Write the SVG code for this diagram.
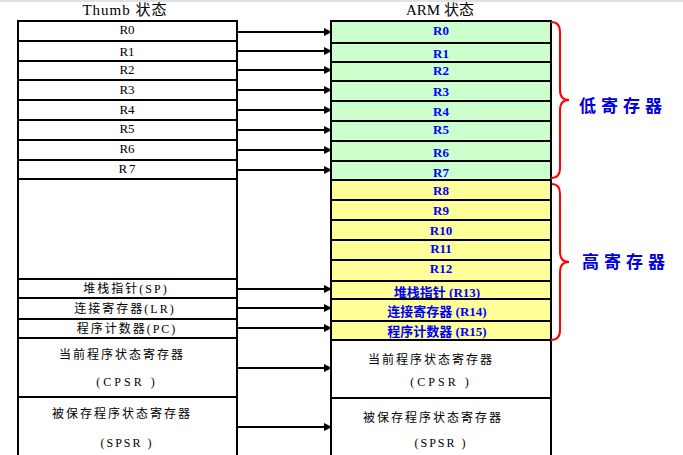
<svg xmlns="http://www.w3.org/2000/svg" width="683" height="455" viewBox="0 0 683 455">
<style>
.cell{stroke:#000;stroke-width:2}
.w{fill:#fff}
.g{fill:#ccffcc}
.y{fill:#ffff99}
.lt{font-family:"Liberation Serif","Noto Sans CJK SC",serif;font-size:12px;fill:#000;text-anchor:middle}
.lr{font-size:13px}
.rt{font-family:"Liberation Serif","Noto Sans CJK SC",serif;font-size:13px;font-weight:bold;fill:#0000ff;text-anchor:middle}
.cj{letter-spacing:2px}
.hd{font-family:"Liberation Serif","Noto Sans CJK SC",serif;font-size:15px;fill:#000;text-anchor:middle}
.br{fill:none;stroke:#ff0000;stroke-width:2}
.bl{font-family:"Noto Sans CJK SC",sans-serif;font-size:17px;font-weight:bold;fill:#0000dd;letter-spacing:5px}
.ar{stroke:#000;stroke-width:2;marker-end:url(#ah)}
</style>
<defs>
<marker id="ah" markerUnits="userSpaceOnUse" markerWidth="8" markerHeight="8" refX="7" refY="4" orient="auto">
<path d="M0,0 L8,4 L0,8 z" fill="#000"/>
</marker>
</defs>
<rect x="0" y="0" width="683" height="2" fill="#e2e2e2"/>
<text class="hd" x="125" y="15" letter-spacing="1">Thumb 状态</text>
<text class="hd" x="440" y="15">ARM 状态</text>

<g id="thumb">
<g id="t-r0"><rect class="cell w" x="18" y="21" width="219" height="20"/><text class="lt lr" x="127" y="34">R0</text></g>
<g id="t-r1"><rect class="cell w" x="18" y="41" width="219" height="20"/><text class="lt lr" x="127" y="56">R1</text></g>
<g id="t-r2"><rect class="cell w" x="18" y="61" width="219" height="19"/><text class="lt lr" x="127" y="74">R2</text></g>
<g id="t-r3"><rect class="cell w" x="18" y="80" width="219" height="20"/><text class="lt lr" x="127" y="94">R3</text></g>
<g id="t-r4"><rect class="cell w" x="18" y="100" width="219" height="20"/><text class="lt lr" x="127" y="114">R4</text></g>
<g id="t-r5"><rect class="cell w" x="18" y="120" width="219" height="20"/><text class="lt lr" x="127" y="133">R5</text></g>
<g id="t-r6"><rect class="cell w" x="18" y="140" width="219" height="20"/><text class="lt lr" x="127" y="153">R6</text></g>
<g id="t-r7"><rect class="cell w" x="18" y="160" width="219" height="19"/><text class="lt lr" x="128" y="173" letter-spacing="2">R7</text></g>
<g id="t-empty"><rect class="cell w" x="18" y="179" width="219" height="100"/></g>
<g id="t-sp"><rect class="cell w" x="18" y="279" width="219" height="19"/><text class="lt cj" x="126" y="293">堆栈指针(SP)</text></g>
<g id="t-lr"><rect class="cell w" x="18" y="298" width="219" height="21"/><text class="lt cj" x="125" y="313">连接寄存器(LR)</text></g>
<g id="t-pc"><rect class="cell w" x="18" y="319" width="219" height="19"/><text class="lt cj" x="127" y="333">程序计数器(PC)</text></g>
<g id="t-cpsr"><rect class="cell w" x="18" y="338" width="219" height="59"/><text class="lt cj" x="122" y="359">当前程序状态寄存器</text><text class="lt" x="127" y="386" letter-spacing="3">(CPSR )</text></g>
<g id="t-spsr"><rect class="cell w" x="18" y="397" width="219" height="70"/><text class="lt cj" x="122" y="418">被保存程序状态寄存器</text><text class="lt" x="127" y="447" letter-spacing="2">(SPSR )</text></g>
</g>

<g id="arm">
<g id="a-r0"><rect class="cell g" x="331" y="21" width="220" height="22"/><text class="rt" x="441" y="35">R0</text></g>
<g id="a-r1"><rect class="cell g" x="331" y="43" width="220" height="19"/><text class="rt" x="441" y="58">R1</text></g>
<g id="a-r2"><rect class="cell g" x="331" y="62" width="220" height="19"/><text class="rt" x="441" y="75">R2</text></g>
<g id="a-r3"><rect class="cell g" x="331" y="81" width="220" height="20"/><text class="rt" x="441" y="96">R3</text></g>
<g id="a-r4"><rect class="cell g" x="331" y="101" width="220" height="20"/><text class="rt" x="441" y="116">R4</text></g>
<g id="a-r5"><rect class="cell g" x="331" y="121" width="220" height="20"/><text class="rt" x="441" y="134">R5</text></g>
<g id="a-r6"><rect class="cell g" x="331" y="141" width="220" height="20"/><text class="rt" x="441" y="157">R6</text></g>
<g id="a-r7"><rect class="cell g" x="331" y="161" width="220" height="19"/><text class="rt" x="441" y="177">R7</text></g>
<g id="a-r8"><rect class="cell y" x="331" y="180" width="220" height="20"/><text class="rt" x="441" y="195">R8</text></g>
<g id="a-r9"><rect class="cell y" x="331" y="200" width="220" height="20"/><text class="rt" x="441" y="215">R9</text></g>
<g id="a-r10"><rect class="cell y" x="331" y="220" width="220" height="20"/><text class="rt" x="441" y="235">R10</text></g>
<g id="a-r11"><rect class="cell y" x="331" y="240" width="220" height="20"/><text class="rt" x="441" y="253">R11</text></g>
<g id="a-r12"><rect class="cell y" x="331" y="260" width="220" height="21"/><text class="rt" x="441" y="273">R12</text></g>
<g id="a-r13"><rect class="cell y" x="331" y="281" width="220" height="18"/><text class="rt" x="437" y="297">堆栈指针 (R13)</text></g>
<g id="a-r14"><rect class="cell y" x="331" y="299" width="220" height="22"/><text class="rt" x="437" y="316">连接寄存器 (R14)</text></g>
<g id="a-r15"><rect class="cell y" x="331" y="321" width="220" height="19"/><text class="rt" x="437" y="336">程序计数器 (R15)</text></g>
<g id="a-cpsr"><rect class="cell w" x="331" y="340" width="220" height="58"/><text class="lt cj" x="431" y="364">当前程序状态寄存器</text><text class="lt" x="441" y="386" letter-spacing="3">(CPSR )</text></g>
<g id="a-spsr"><rect class="cell w" x="331" y="398" width="220" height="70"/><text class="lt cj" x="433" y="422">被保存程序状态寄存器</text><text class="lt" x="441" y="447" letter-spacing="2">(SPSR )</text></g>
</g>

<g id="connectors">
<line class="ar" x1="237" y1="32" x2="331" y2="32"/>
<line class="ar" x1="237" y1="51" x2="331" y2="51"/>
<line class="ar" x1="237" y1="70" x2="331" y2="70"/>
<line class="ar" x1="237" y1="90" x2="331" y2="90"/>
<line class="ar" x1="237" y1="110" x2="331" y2="110"/>
<line class="ar" x1="237" y1="130" x2="331" y2="130"/>
<line class="ar" x1="237" y1="150" x2="331" y2="150"/>
<line class="ar" x1="237" y1="170" x2="331" y2="170"/>
<line class="ar" x1="237" y1="289" x2="331" y2="289"/>
<line class="ar" x1="237" y1="308" x2="331" y2="308"/>
<line class="ar" x1="237" y1="328" x2="331" y2="328"/>
<line class="ar" x1="237" y1="368" x2="331" y2="368"/>
<line class="ar" x1="237" y1="427" x2="331" y2="427"/>
</g>

<g id="low-group">
<path class="br" d="M551,22 Q560,22 560,32 L560,90 Q560,100 569,100 Q560,100 560,110 L560,168 Q560,178 551,178"/>
<text class="bl" x="579" y="112">低寄存器</text>
</g>
<g id="high-group">
<path class="br" d="M552,184 Q560,184 560,194 L560,252 Q560,262 569,262 Q560,262 560,272 L560,330 Q560,340 551,340"/>
<text class="bl" x="582" y="268">高寄存器</text>
</g>
</svg>
